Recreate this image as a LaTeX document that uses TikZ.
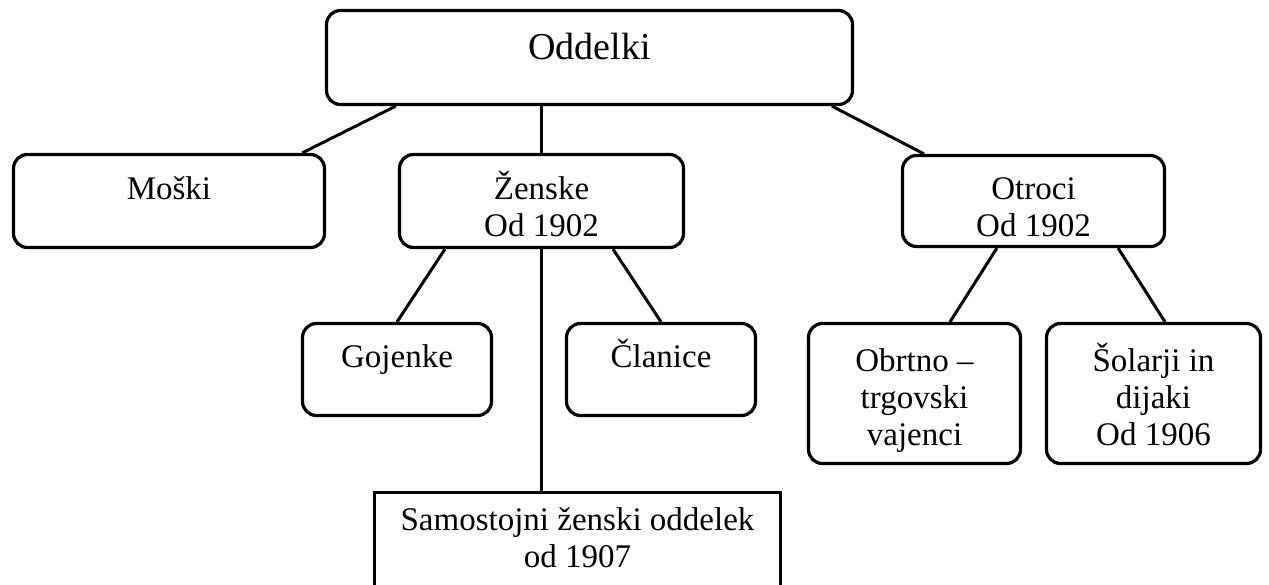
\documentclass[tikz,border=0pt]{standalone}
\usepackage{fontspec}
\setmainfont{Liberation Serif}
\usetikzlibrary{calc}
\newcommand\mylines[1]{\begin{tabular}[t]{@{}c@{}}#1\end{tabular}}
\begin{document}
\begin{tikzpicture}[x=1pt,y=-1pt,
  rbox/.style={draw,line width=3.2pt,rounded corners=14pt,inner sep=0pt},
  sbox/.style={draw,line width=3.2pt,inner sep=0pt},
  lbl/.style={anchor=base,inner sep=0pt,font=\fontsize{33}{37}\selectfont},
  big/.style={anchor=base,inner sep=0pt,font=\fontsize{38}{44}\selectfont},
  conn/.style={line width=3pt}]
\useasboundingbox (0,0) rectangle (1269,585);
\clip (0,0) rectangle (1269,585);
% boxes
\node[rbox,minimum width=526,minimum height=94] (odd) at (589.5,57.5) {};
\node[rbox,minimum width=311,minimum height=93] (mos) at (169,201) {};
\node[rbox,minimum width=284,minimum height=93] (zen) at (541.5,201) {};
\node[rbox,minimum width=262,minimum height=91] (otr) at (1033.5,201) {};
\node[rbox,minimum width=189,minimum height=92] (goj) at (397,369.5) {};
\node[rbox,minimum width=189,minimum height=92] (cla) at (661,369.5) {};
\node[rbox,minimum width=212,minimum height=140] (obr) at (914.5,393.5) {};
\node[rbox,minimum width=214,minimum height=140] (sol) at (1153.5,393.5) {};
\node[sbox,minimum width=406,minimum height=120] (sam) at (577.5,552.5) {};
% labels
\node[big] (toddelki) at (589.5,60) {Oddelki};
\node[lbl] (tmos) at (169,200) {\mylines{Moški}};
\node[lbl] (tzen) at (541.5,200) {\mylines{Ženske\\Od 1902}};
\node[lbl] (totr) at (1033.5,200) {\mylines{Otroci\\Od 1902}};
\node[lbl] (tgoj) at (397,367) {\mylines{Gojenke}};
\node[lbl] (tcla) at (661,367) {\mylines{Članice}};
\node[lbl] (tobr) at (914.5,371) {\mylines{Obrtno –\\trgovski\\vajenci}};
\node[lbl] (tsol) at (1153.5,371) {\mylines{Šolarji in\\dijaki\\Od 1906}};
\node[lbl] (tsam) at (577.5,530) {\mylines{Samostojni ženski oddelek\\od 1907}};
% connectors
\draw[conn] ($(odd.south west)!0.134!(odd.south east)$) -- ($(mos.north west)!0.924!(mos.north east)$);
\draw[conn] (zen.north |- odd.south) -- (zen.north);
\draw[conn] ($(odd.south west)!0.958!(odd.south east)$) -- ($(otr.north west)!0.087!(otr.north east)$);
\draw[conn] ($(zen.south west)!0.164!(zen.south east)$) -- (goj.north);
\draw[conn] ($(zen.south west)!0.749!(zen.south east)$) -- (cla.north);
\draw[conn] (zen.south) -- (zen.south |- sam.north);
\draw[conn] ($(otr.south west)!0.362!(otr.south east)$) -- ($(obr.north west)!0.665!(obr.north east)$);
\draw[conn] ($(otr.south west)!0.819!(otr.south east)$) -- ($(sol.north west)!0.553!(sol.north east)$);
\end{tikzpicture}
\end{document}
